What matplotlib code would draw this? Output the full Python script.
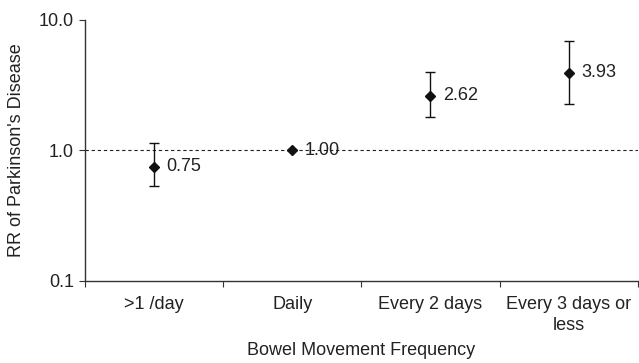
import numpy as np
import matplotlib
matplotlib.use("Agg")
import matplotlib.pyplot as plt

categories = ['>1 /day', 'Daily', 'Every 2 days', 'Every 3 days or\nless']
rr = [0.75, 1.00, 2.62, 3.93]
ci_low = [0.53, 1.00, 1.79, 2.26]
ci_high = [1.15, 1.00, 3.98, 6.88]
labels = ['0.75', '1.00', '2.62', '3.93']

plt.rcParams['font.family'] = ['Liberation Sans', 'DejaVu Sans']
text_color = '#222222'
fs = 13

fig = plt.figure(figsize=(6.39, 3.63), dpi=100)
ax = fig.add_axes([0.133, 0.226, 0.865, 0.719])

x = np.arange(len(categories)) + 0.5
yerr = [np.array(rr) - np.array(ci_low), np.array(ci_high) - np.array(rr)]

ax.axhline(1.0, color='#222222', linestyle=(0, (3, 2.5)), linewidth=0.8, zorder=1)
ax.errorbar(x, rr, yerr=yerr, fmt='D', color='#111111', markersize=5.5,
            ecolor='#111111', elinewidth=1.0, capsize=3.3, capthick=1.0, zorder=3)

for xi, yi, lab in zip(x, rr, labels):
    ax.text(xi + 0.09, yi, lab, ha='left', va='center', fontsize=fs, color=text_color, zorder=2)

ax.set_yscale('log')
ax.set_ylim(0.1, 10.0)
ax.set_yticks([0.1, 1.0, 10.0])
ax.set_yticklabels(['0.1', '1.0', '10.0'])
ax.yaxis.set_minor_locator(matplotlib.ticker.NullLocator())

ax.set_xlim(0, len(categories))
ax.set_xticks(np.arange(len(categories) + 1))
ax.set_xticklabels([])
ax.set_xticks(x, minor=True)
ax.set_xticklabels(categories, minor=True, linespacing=1.3)
ax.tick_params(axis='x', which='minor', length=0, pad=11, labelsize=fs, labelcolor=text_color)
ax.tick_params(axis='x', which='major', length=4, direction='out', color='#333333')
ax.tick_params(axis='y', length=4, direction='out', pad=4, labelsize=fs, labelcolor=text_color, color='#333333')

for side in ['top', 'right']:
    ax.spines[side].set_visible(False)
for side in ['left', 'bottom']:
    ax.spines[side].set_color('#333333')
    ax.spines[side].set_linewidth(1.0)

ax.set_ylabel("RR of Parkinson's Disease", fontsize=fs, color=text_color, labelpad=10)
ax.set_xlabel('Bowel Movement Frequency', fontsize=fs, color=text_color, labelpad=6)

fig.savefig('out.png', dpi=100)
